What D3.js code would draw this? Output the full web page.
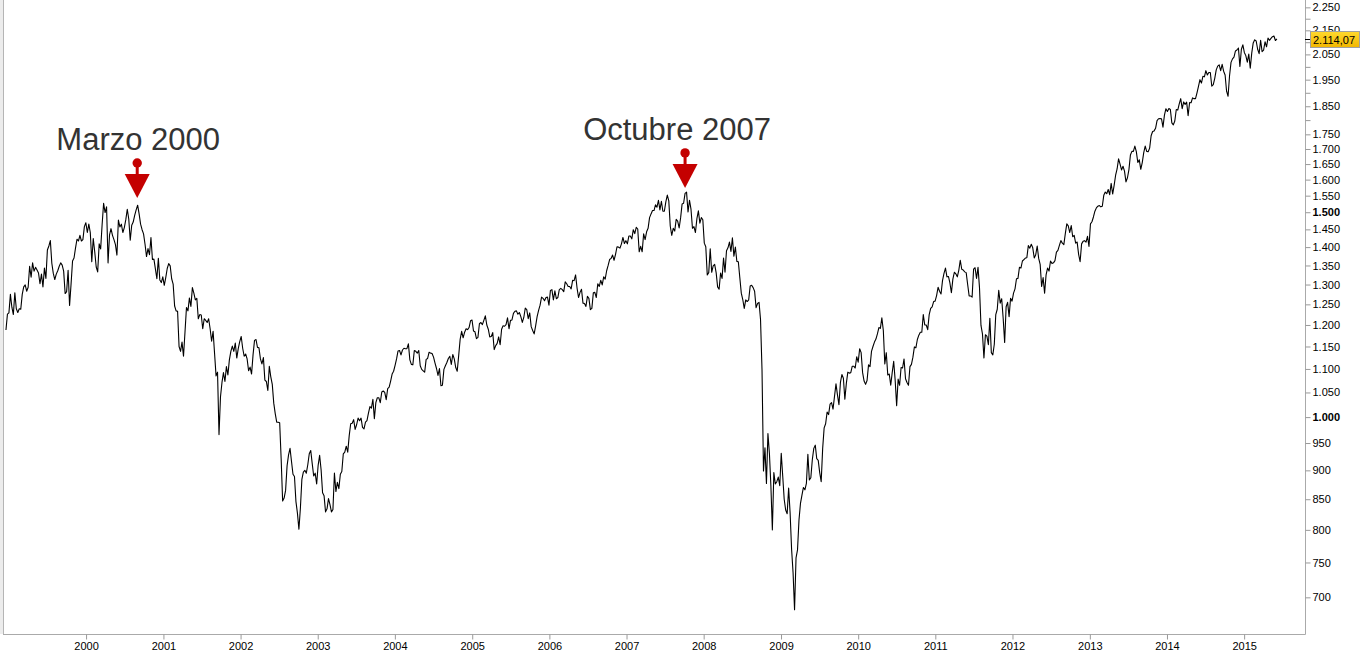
<!DOCTYPE html>
<html lang="es">
<head>
<meta charset="UTF-8">
<title>S&amp;P 500 semanal</title>
<script src="https://d3js.org/d3.v7.min.js"></script>
<style>
  body { margin: 0; background: #fff; overflow: hidden; }
  text { font-family: "Liberation Sans", Arial, sans-serif; }
</style>
</head>
<body>
<script>
// weekly closes, one value per Friday starting at firstWeek
const firstWeek = "1998-12-18";
const close1998 = [1188, 1226, 1229];
const close1999 = [1275, 1243, 1225, 1279, 1239, 1230, 1239, 1238, 1275, 1294, 1299, 1283, 1293, 1348, 1319, 1357, 1335, 1345, 1338, 1330, 1302, 1327, 1294, 1343, 1316, 1392, 1403, 1418, 1356, 1329, 1313, 1327, 1336, 1348, 1357, 1351, 1335, 1277, 1282, 1337, 1247, 1301, 1362, 1370, 1397, 1422, 1417, 1433, 1417, 1421, 1458, 1469];
const close2000 = [1441, 1465, 1441, 1360, 1424, 1387, 1346, 1333, 1409, 1395, 1464, 1527, 1499, 1516, 1357, 1434, 1452, 1433, 1421, 1407, 1378, 1477, 1457, 1465, 1441, 1455, 1478, 1509, 1480, 1419, 1462, 1471, 1491, 1507, 1521, 1495, 1465, 1449, 1437, 1408, 1374, 1396, 1379, 1427, 1366, 1367, 1341, 1315, 1369, 1312, 1305, 1320];
const close2001 = [1298, 1318, 1342, 1355, 1349, 1315, 1301, 1246, 1234, 1233, 1150, 1139, 1160, 1128, 1183, 1242, 1234, 1266, 1245, 1292, 1278, 1261, 1265, 1215, 1225, 1224, 1191, 1215, 1211, 1206, 1215, 1191, 1162, 1185, 1134, 1085, 1093, 966, 1041, 1071, 1092, 1073, 1105, 1087, 1120, 1139, 1151, 1139, 1158, 1124, 1145, 1161];
const close2002 = [1173, 1146, 1128, 1133, 1122, 1096, 1104, 1089, 1131, 1164, 1166, 1148, 1147, 1122, 1111, 1125, 1076, 1073, 1054, 1106, 1083, 1067, 1028, 1007, 990, 990, 989, 921, 847, 852, 865, 908, 928, 940, 916, 893, 889, 846, 827, 801, 835, 884, 897, 900, 895, 910, 930, 936, 912, 890, 895, 876];
const close2003 = [909, 927, 901, 861, 856, 829, 834, 851, 841, 829, 833, 895, 863, 879, 868, 893, 898, 930, 933, 944, 933, 964, 987, 988, 995, 976, 985, 998, 993, 998, 980, 977, 990, 993, 1008, 1021, 1018, 1036, 997, 1029, 1039, 1039, 1029, 1051, 1053, 1050, 1035, 1058, 1061, 1074, 1089, 1095];
const close2004 = [1108, 1122, 1140, 1141, 1131, 1142, 1146, 1145, 1145, 1156, 1120, 1110, 1109, 1141, 1139, 1135, 1141, 1107, 1099, 1096, 1093, 1121, 1123, 1137, 1135, 1134, 1126, 1113, 1101, 1086, 1101, 1064, 1065, 1099, 1107, 1114, 1123, 1128, 1110, 1132, 1122, 1103, 1095, 1130, 1167, 1185, 1170, 1183, 1191, 1189, 1194, 1210, 1212];
const close2005 = [1186, 1184, 1168, 1171, 1203, 1206, 1201, 1211, 1222, 1200, 1190, 1172, 1173, 1182, 1143, 1152, 1157, 1172, 1154, 1190, 1198, 1197, 1201, 1217, 1191, 1211, 1212, 1228, 1233, 1234, 1226, 1230, 1220, 1206, 1218, 1241, 1237, 1215, 1229, 1196, 1187, 1179, 1198, 1220, 1235, 1248, 1268, 1265, 1259, 1267, 1268, 1248];
const close2006 = [1285, 1287, 1261, 1284, 1264, 1267, 1287, 1290, 1287, 1282, 1307, 1302, 1295, 1295, 1289, 1311, 1310, 1325, 1291, 1267, 1280, 1288, 1253, 1252, 1245, 1270, 1265, 1237, 1240, 1279, 1280, 1267, 1302, 1295, 1311, 1299, 1320, 1314, 1336, 1350, 1366, 1369, 1378, 1364, 1380, 1401, 1400, 1397, 1409, 1427, 1410, 1418];
const close2007 = [1409, 1431, 1431, 1423, 1449, 1438, 1456, 1451, 1387, 1402, 1387, 1437, 1421, 1443, 1453, 1484, 1495, 1505, 1505, 1522, 1515, 1536, 1507, 1533, 1503, 1503, 1531, 1552, 1534, 1459, 1433, 1453, 1445, 1479, 1474, 1454, 1484, 1525, 1527, 1557, 1561, 1501, 1536, 1509, 1453, 1458, 1441, 1481, 1504, 1468, 1484, 1478];
const close2008 = [1411, 1401, 1325, 1331, 1395, 1332, 1349, 1353, 1331, 1294, 1288, 1330, 1316, 1370, 1332, 1390, 1398, 1414, 1388, 1426, 1375, 1400, 1361, 1360, 1318, 1278, 1262, 1240, 1261, 1257, 1261, 1296, 1298, 1292, 1283, 1242, 1252, 1255, 1213, 1099, 899, 941, 877, 968, 931, 873, 800, 896, 876, 880, 888, 873];
const close2009 = [931, 890, 850, 832, 826, 869, 827, 770, 735, 683, 757, 769, 816, 843, 857, 870, 866, 877, 929, 883, 887, 919, 940, 946, 921, 918, 896, 880, 940, 979, 987, 1010, 1005, 1026, 1029, 1016, 1042, 1068, 1045, 1025, 1071, 1088, 1080, 1036, 1069, 1093, 1091, 1092, 1106, 1106, 1102, 1127, 1115];
const close2010 = [1145, 1136, 1092, 1074, 1067, 1075, 1109, 1105, 1139, 1150, 1160, 1167, 1179, 1194, 1192, 1217, 1187, 1111, 1136, 1087, 1089, 1065, 1092, 1117, 1076, 1023, 1078, 1065, 1103, 1102, 1122, 1079, 1071, 1065, 1105, 1110, 1126, 1149, 1147, 1166, 1176, 1183, 1183, 1225, 1200, 1200, 1189, 1225, 1240, 1244, 1257, 1258];
const close2011 = [1272, 1293, 1283, 1276, 1310, 1329, 1343, 1320, 1321, 1304, 1279, 1314, 1332, 1328, 1320, 1337, 1364, 1340, 1338, 1333, 1331, 1300, 1271, 1271, 1268, 1340, 1344, 1316, 1345, 1292, 1199, 1179, 1124, 1177, 1174, 1154, 1216, 1136, 1131, 1155, 1225, 1238, 1285, 1253, 1264, 1216, 1159, 1244, 1255, 1220, 1265, 1258];
const close2012 = [1278, 1289, 1315, 1316, 1345, 1343, 1362, 1366, 1370, 1371, 1404, 1397, 1408, 1398, 1370, 1379, 1403, 1369, 1353, 1295, 1318, 1278, 1325, 1343, 1335, 1362, 1355, 1357, 1363, 1386, 1391, 1405, 1418, 1411, 1407, 1438, 1466, 1460, 1441, 1461, 1429, 1433, 1411, 1414, 1380, 1360, 1409, 1416, 1418, 1414, 1430, 1402];
const close2013 = [1466, 1472, 1486, 1503, 1513, 1518, 1520, 1516, 1518, 1551, 1561, 1556, 1569, 1553, 1588, 1555, 1582, 1614, 1634, 1667, 1650, 1631, 1643, 1627, 1593, 1606, 1632, 1680, 1692, 1692, 1710, 1691, 1655, 1664, 1633, 1655, 1688, 1710, 1692, 1691, 1703, 1745, 1760, 1762, 1771, 1798, 1805, 1806, 1805, 1775, 1818, 1841];
const close2014 = [1831, 1842, 1838, 1790, 1783, 1797, 1838, 1836, 1859, 1878, 1841, 1866, 1857, 1865, 1816, 1864, 1863, 1881, 1878, 1878, 1900, 1924, 1950, 1937, 1963, 1961, 1985, 1968, 1978, 1978, 1925, 1931, 1955, 1988, 2003, 2008, 1985, 2010, 1983, 1968, 1906, 1887, 1965, 2018, 2032, 2039, 2064, 2068, 2076, 2002, 2071, 2089];
const close2015 = [2058, 2045, 2019, 2051, 1995, 2055, 2097, 2110, 2105, 2071, 2053, 2108, 2061, 2067, 2102, 2081, 2117, 2108, 2116, 2123, 2126, 2107, 2114.07];

const yearTicks = [2000, 2001, 2002, 2003, 2004, 2005, 2006, 2007, 2008, 2009, 2010, 2011, 2012, 2013, 2014, 2015];
const priceTicks = [700, 750, 800, 850, 900, 950, 1000, 1050, 1100, 1150, 1200, 1250, 1300, 1350, 1400, 1450, 1500,
                    1550, 1600, 1650, 1700, 1750, 1800, 1850, 1900, 1950, 2000, 2050, 2100, 2150, 2200, 2250];
const unlabeledTicks = [1800, 1900, 2000, 2100, 2200];
const boldTicks = [1000, 1500];
const lastClose = 2114.07;

const annotationLabels = ["Marzo 2000", "Octubre 2007"];
const annotationDates = ["2000-08-30", "2007-10-05"];
const annotationValues = [1543, 1574];

const width = 1362, height = 654;
const plot = { left: 3, right: 1305, top: 0, bottom: 634 };

const closes = [].concat(close1998, close1999, close2000, close2001, close2002, close2003, close2004,
  close2005, close2006, close2007, close2008, close2009, close2010, close2011, close2012, close2013,
  close2014, close2015);
const start = new Date(firstWeek + "T00:00:00");
const data = closes.map((v, i) => ({ date: d3.timeDay.offset(start, 7 * i), value: v }));

const locale = d3.formatLocale({ decimal: ",", thousands: ".", grouping: [3], currency: ["", "€"] });
const fmt = locale.format(",d");
const fmtLast = locale.format(",.2f");

const x = d3.scaleTime()
  .domain([new Date(1998, 11, 4), new Date(2015, 9, 16)])
  .range([plot.left, plot.right]);

const y = d3.scaleLog()
  .domain([651, 2283])
  .range([plot.bottom, plot.top]);

const svg = d3.select("body").append("svg")
  .attr("width", width)
  .attr("height", height);

svg.append("rect").attr("x", 0).attr("y", 0).attr("width", 3).attr("height", plot.bottom)
  .attr("fill", "#ececec");

svg.append("clipPath").attr("id", "clip")
  .append("rect")
  .attr("x", plot.left).attr("y", plot.top)
  .attr("width", plot.right - plot.left).attr("height", plot.bottom - plot.top);

// frame
svg.append("line")
  .attr("x1", plot.left + 0.5).attr("x2", plot.left + 0.5)
  .attr("y1", 0).attr("y2", plot.bottom)
  .attr("stroke", "#b5b5b5");

// right price axis
const yAxis = d3.axisRight(y)
  .tickValues(priceTicks)
  .tickSize(5)
  .tickPadding(2)
  .tickFormat(d => unlabeledTicks.includes(d) ? "" : fmt(d));

const gy = svg.append("g")
  .attr("transform", `translate(${plot.right + 0.5},0)`)
  .call(yAxis);
gy.select(".domain").attr("stroke", "#aaa").attr("d", `M0,0V${plot.bottom + 0.5}`);
gy.selectAll(".tick line").attr("stroke", "#999");
gy.selectAll(".tick text")
  .attr("fill", "#000")
  .style("font-size", "11px")
  .style("font-weight", d => boldTicks.includes(d) ? "bold" : "normal");

// bottom time axis
const xAxis = d3.axisBottom(x)
  .tickValues(yearTicks.map(yr => new Date(yr, 0, 1)))
  .tickSize(5)
  .tickPadding(3)
  .tickFormat(d3.timeFormat("%Y"));

const gx = svg.append("g")
  .attr("transform", `translate(0,${plot.bottom + 0.5})`)
  .call(xAxis);
gx.select(".domain").attr("stroke", "#aaa").attr("d", `M${plot.left},0H${plot.right + 0.5}`);
gx.selectAll(".tick line").attr("stroke", "#999");
gx.selectAll(".tick text").attr("fill", "#000").style("font-size", "11px");

// price line
const line = d3.line()
  .x(d => x(d.date))
  .y(d => y(d.value));

svg.append("path")
  .datum(data)
  .attr("clip-path", "url(#clip)")
  .attr("fill", "none")
  .attr("stroke", "#000")
  .attr("stroke-width", 1.1)
  .attr("stroke-linejoin", "round")
  .attr("d", line);

// last price marker
const defs = svg.append("defs");
const grad = defs.append("linearGradient").attr("id", "gold").attr("x1", 0).attr("x2", 0).attr("y1", 0).attr("y2", 1);
grad.append("stop").attr("offset", "0%").attr("stop-color", "#ffd92e");
grad.append("stop").attr("offset", "100%").attr("stop-color", "#f2b600");

const ly = y(lastClose);
svg.append("line")
  .attr("x1", plot.right).attr("x2", plot.right + 6)
  .attr("y1", Math.round(ly) + 0.5).attr("y2", Math.round(ly) + 0.5)
  .attr("stroke", "#000");
svg.append("rect")
  .attr("x", plot.right + 5.5).attr("y", Math.round(ly) - 7.5)
  .attr("width", 49).attr("height", 16)
  .attr("fill", "url(#gold)")
  .attr("stroke", "#a0a0a0");
svg.append("text")
  .attr("x", plot.right + 8).attr("y", Math.round(ly) + 4.5)
  .attr("fill", "#000")
  .style("font-size", "11px")
  .text(fmtLast(lastClose));

// annotations
const notes = annotationLabels.map((t, i) => ({
  label: t,
  date: new Date(annotationDates[i] + "T00:00:00"),
  value: annotationValues[i]
}));

const ann = svg.selectAll(".note")
  .data(notes)
  .join("g")
  .attr("class", "note")
  .attr("transform", d => `translate(${x(d.date)},${y(d.value)})`);

ann.append("path")
  .attr("d", "M-12.5,-24L12.5,-24L0,0Z")
  .attr("fill", "#c40000");
ann.append("rect")
  .attr("x", -1.5).attr("y", -35).attr("width", 3).attr("height", 12)
  .attr("fill", "#c40000");
ann.append("circle")
  .attr("cx", 0).attr("cy", -35).attr("r", 4.7)
  .attr("fill", "#c40000");
ann.append("text")
  .attr("x", (d, i) => i === 0 ? 1 : -8)
  .attr("y", -48)
  .attr("text-anchor", "middle")
  .attr("fill", "#333")
  .style("font-size", "31px")
  .text(d => d.label);
</script>
</body>
</html>
